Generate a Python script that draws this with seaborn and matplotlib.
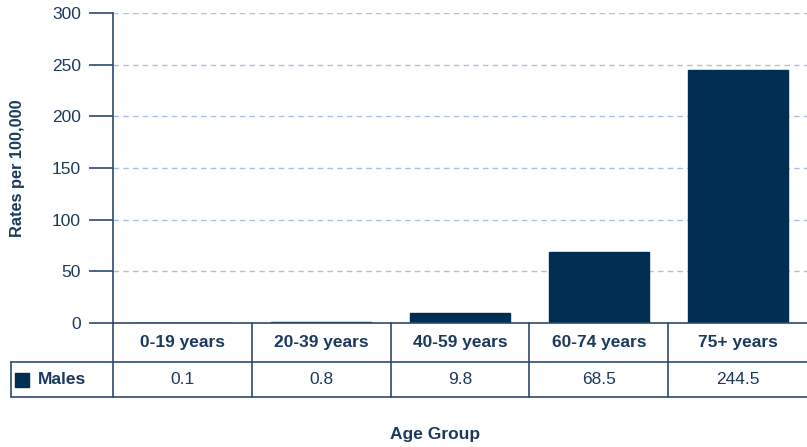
import numpy as np
import pandas as pd
import seaborn as sns
import matplotlib.pyplot as plt

# values
age_groups = ['0-19 years', '20-39 years', '40-59 years', '60-74 years', '75+ years']
males = [0.1, 0.8, 9.8, 68.5, 244.5]
y_ticks = [0, 50, 100, 150, 200, 250, 300]

bar_color = '#002D52'
text_color = '#1B3A5E'
line_color = '#2B4A6E'

sns.set_style('white')
plt.rcParams['font.family'] = ['Liberation Sans', 'DejaVu Sans']

df = pd.DataFrame({'age': age_groups, 'rate': males})

fig = plt.figure(figsize=(8.07, 4.47), dpi=100)
ax = fig.add_axes([113 / 807, 1 - 323 / 447, 694 / 807, 310 / 447])

sns.barplot(data=df, x='age', y='rate', color=bar_color, width=0.72,
            saturation=1, edgecolor=bar_color, linewidth=1, ax=ax)

ax.set_xlim(-0.5, 4.5)
ax.set_ylim(0, 300)
ax.set_yticks(y_ticks)
ax.tick_params(axis='y', left=True, length=17, width=1.2, color=line_color,
               labelsize=12.5, labelcolor=text_color, pad=6)
ax.tick_params(axis='x', bottom=False, labelbottom=False)
ax.set_xlabel('')
ax.set_ylabel('')
for y in y_ticks[1:]:
    ax.axhline(y, color='#A9C1E2', lw=1, ls=(0, (4, 3)), zorder=0)

for side in ['top', 'right']:
    ax.spines[side].set_visible(False)
ax.spines['left'].set_color(line_color)
ax.spines['left'].set_linewidth(1.2)
ax.spines['bottom'].set_color(line_color)
ax.spines['bottom'].set_linewidth(1.2)

# table under the axis
tr = ax.get_xaxis_transform()
row1 = -39 / 310
row2 = -74 / 310
left_edge = -0.5 - 102 / 139
for x in [-0.5, 0.5, 1.5, 2.5, 3.5]:
    ax.plot([x, x], [0, row2], transform=tr, color=line_color, lw=1.2, clip_on=False)
ax.plot([left_edge, left_edge], [row1, row2], transform=tr, color=line_color, lw=1.2, clip_on=False)
for y in [row1, row2]:
    ax.plot([left_edge, 4.5], [y, y], transform=tr, color=line_color, lw=1.2, clip_on=False)

for i, (label, val) in enumerate(zip(age_groups, males)):
    ax.text(i, row1 / 2, label, transform=tr, ha='center', va='center',
            fontsize=12.5, fontweight='bold', color=text_color)
    ax.text(i, (row1 + row2) / 2, f'{val}', transform=tr, ha='center', va='center',
            fontsize=12.5, color=text_color)

ax.scatter([left_edge + 0.079], [(row1 + row2) / 2], marker='s', s=100, color=bar_color,
           transform=tr, clip_on=False)
ax.text(left_edge + 0.194, (row1 + row2) / 2, 'Males', transform=tr, ha='left', va='center',
        fontsize=12.5, fontweight='bold', color=text_color)

fig.text(18 / 807, 1 - 168 / 447, 'Rates per 100,000', rotation=90, ha='center', va='center',
         fontsize=11.8, fontweight='bold', color=text_color)
fig.text(435 / 807, 1 - 435 / 447, 'Age Group', ha='center', va='center',
         fontsize=12.5, fontweight='bold', color=text_color)

fig.savefig('out.png', dpi=100)
